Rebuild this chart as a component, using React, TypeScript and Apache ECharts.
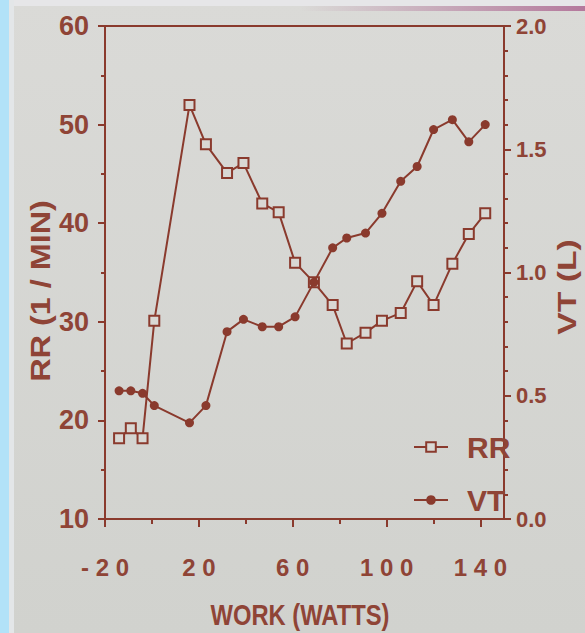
import React, { useEffect, useRef } from "react";
import * as echarts from "echarts";

// Work load (watts), shared by both series
const work = [-14, -9, -4, 1, 16, 23, 32, 39, 47, 54, 61, 69, 77, 83, 91, 98, 106, 113, 120, 128, 135, 142];
// Respiratory rate (1/min)
const rrValues = [18.2, 19.2, 18.2, 30.1, 52.0, 48.0, 45.1, 46.1, 42.0, 41.1, 36.0, 34.0, 31.7, 27.8, 28.9, 30.1, 30.9, 34.1, 31.7, 35.9, 38.9, 41.0];
// Tidal volume (L)
const vtValues = [0.52, 0.52, 0.51, 0.46, 0.39, 0.46, 0.76, 0.81, 0.78, 0.78, 0.82, 0.96, 1.10, 1.14, 1.16, 1.24, 1.37, 1.43, 1.58, 1.62, 1.53, 1.60];

const xLabelValues = [-20, 20, 60, 100, 140];
const xMinorTickValues = [0, 40, 80, 120];
const seriesNames = ["RR", "VT"];
const xTitle = "WORK (WATTS)";
const rrTitle = "RR (1 / MIN)";
const vtTitle = "VT (L)";

const BROWN = "#8a3a2d";
const TEXT = "#8f4436";
const FILL = "#d9d8d4";
const FONT = "'Liberation Sans', Arial, sans-serif";

export default function App() {
  const ref = useRef<HTMLDivElement>(null);

  useEffect(() => {
    if (!ref.current) return;
    const chart = echarts.init(ref.current, null, { renderer: "svg" });
    const lbl = (size: number) => ({
      color: TEXT,
      fontFamily: FONT,
      fontWeight: "bold" as const,
      fontSize: size,
    });
    const line = { color: BROWN, width: 2 };
    const title = (text: string, x: number, y: number, size: number, sx: number, rot: number) => ({
      type: "text",
      x,
      y,
      rotation: rot,
      scaleX: sx,
      style: {
        text,
        fill: TEXT,
        font: `bold ${size}px ${FONT}`,
        align: "center",
        verticalAlign: "middle",
        textAlign: "center",
        textVerticalAlign: "middle",
      },
    });
    chart.setOption({
      animation: false,
      backgroundColor: "transparent",
      grid: {
        left: 105,
        right: 81,
        top: 26,
        bottom: 114,
        show: true,
        borderColor: BROWN,
        borderWidth: 2,
        backgroundColor: "transparent",
        outerBoundsMode: "none",
        containLabel: false,
      },
      xAxis: [
        {
          type: "value",
          min: -20,
          max: 150,
          position: "bottom",
          axisLine: { onZero: false, lineStyle: line },
          axisTick: { customValues: xLabelValues, length: 8, lineStyle: line },
          axisLabel: {
            customValues: xLabelValues,
            formatter: (v: number) => String(v).split("").join(" "),
            margin: 36,
            ...lbl(24),
          },
          splitLine: { show: false },
        },
        {
          type: "value",
          min: -20,
          max: 150,
          position: "bottom",
          axisLine: { show: false, onZero: false },
          axisTick: { customValues: xMinorTickValues, length: 5, lineStyle: line },
          axisLabel: { show: false },
          splitLine: { show: false },
        },
      ],
      yAxis: [
        {
          type: "value",
          min: 10,
          max: 60,
          interval: 10,
          position: "left",
          axisLine: { show: true, onZero: false, lineStyle: line },
          axisTick: { show: true, length: 7, lineStyle: line },
          minorTick: { show: true, splitNumber: 2, length: 4, lineStyle: line },
          axisLabel: { margin: 16, ...lbl(27) },
          splitLine: { show: false },
        },
        {
          type: "value",
          min: 0,
          max: 2,
          interval: 0.5,
          position: "right",
          axisLine: { show: true, onZero: false, lineStyle: line },
          axisTick: { show: true, length: 7, lineStyle: line },
          minorTick: { show: true, splitNumber: 5, length: 4, lineStyle: line },
          axisLabel: { margin: 12, formatter: (v: number) => v.toFixed(1), ...lbl(22) },
          splitLine: { show: false },
        },
      ],
      legend: {
        data: seriesNames,
        orient: "vertical",
        left: 408,
        top: 427,
        itemWidth: 34,
        itemHeight: 12,
        itemGap: 23,
        selectedMode: false,
        textStyle: { ...lbl(30), lineHeight: 30, padding: [0, 0, 0, 14] },
      },
      graphic: [
        title(rrTitle, 40, 291, 27, 1.2, Math.PI / 2),
        title(vtTitle, 567, 287, 26, 1.3, Math.PI / 2),
        title(xTitle, 300, 615, 29, 0.82, 0),
      ],
      series: [
        {
          name: seriesNames[0],
          type: "line",
          xAxisIndex: 0,
          yAxisIndex: 0,
          data: work.map((w, i) => [w, rrValues[i]]),
          symbol: "rect",
          symbolSize: 10,
          itemStyle: { color: FILL, borderColor: BROWN, borderWidth: 2 },
          lineStyle: line,
          z: 2,
        },
        {
          name: seriesNames[1],
          type: "line",
          xAxisIndex: 0,
          yAxisIndex: 1,
          data: work.map((w, i) => [w, vtValues[i]]),
          symbol: "circle",
          symbolSize: 9,
          itemStyle: { color: BROWN },
          lineStyle: line,
          z: 3,
        },
      ],
    });
    return () => chart.dispose();
  }, []);

  return (
    <div
      style={{
        position: "fixed",
        left: 0,
        top: 0,
        width: 585,
        height: 633,
        overflow: "hidden",
        background: "linear-gradient(to bottom, #dadad7, #d1d2ce)",
      }}
    >
      <div style={{ position: "absolute", left: 0, top: 0, width: 9, height: 633, background: "#b2e2f8" }} />
      <div style={{ position: "absolute", left: 9, top: 0, width: 5, height: 633, background: "#e3e6e8" }} />
      <div style={{ position: "absolute", left: 14, top: 0, width: 571, height: 6, background: "#e6e6e8" }} />
      <div
        style={{
          position: "absolute",
          left: 300,
          top: 6,
          width: 285,
          height: 5,
          background: "linear-gradient(to right, rgba(176,120,150,0), rgba(176,110,150,0.9))",
        }}
      />
      <div ref={ref} style={{ position: "absolute", left: 0, top: 0, width: 585, height: 633 }} />
    </div>
  );
}
